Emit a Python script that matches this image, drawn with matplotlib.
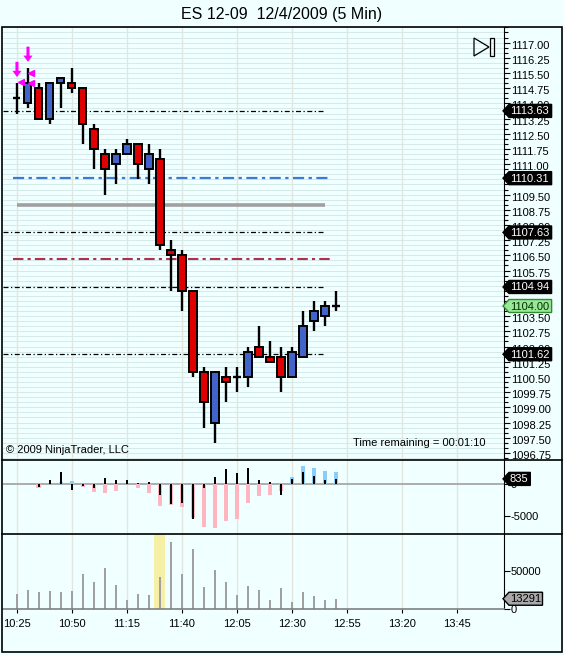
import matplotlib
matplotlib.use("Agg")
import matplotlib.pyplot as plt
from matplotlib.patches import Rectangle, Polygon
from matplotlib.transforms import ScaledTranslation
import numpy as np

plt.rcParams['font.family'] = ['Liberation Sans', 'DejaVu Sans']

W, H = 564, 655
BG = '#F0FFFF'

# ---- data ----
title = "ES 12-09  12/4/2009 (5 Min)"
time_labels = ["10:25", "10:50", "11:15", "11:40", "12:05", "12:30", "12:55", "13:20", "13:45"]

opens  = [1114.25, 1114.00, 1114.75, 1113.25, 1115.00, 1115.00, 1114.75, 1112.75, 1111.50, 1111.00,
          1111.50, 1112.00, 1110.75, 1111.25, 1106.75, 1106.50, 1104.75, 1100.75, 1098.25, 1100.50,
          1100.50, 1100.50, 1102.00, 1101.50, 1101.50, 1100.50, 1101.50, 1103.25, 1103.50, 1104.00]
highs  = [1115.00, 1115.75, 1115.00, 1115.00, 1115.25, 1115.75, 1114.75, 1113.00, 1111.75, 1111.75,
          1112.25, 1112.00, 1112.00, 1111.75, 1107.25, 1106.75, 1104.75, 1101.00, 1100.75, 1101.00,
          1101.00, 1102.00, 1103.00, 1102.25, 1102.00, 1102.00, 1103.75, 1104.25, 1104.25, 1104.75]
lows   = [1113.50, 1113.75, 1113.25, 1113.00, 1113.75, 1114.50, 1112.00, 1110.75, 1109.50, 1110.00,
          1111.50, 1110.25, 1110.00, 1106.75, 1104.75, 1103.75, 1100.50, 1098.00, 1097.25, 1099.25,
          1099.75, 1100.00, 1101.50, 1101.25, 1099.75, 1100.50, 1101.50, 1102.75, 1103.00, 1103.75]
closes = [1114.25, 1115.00, 1113.25, 1115.00, 1115.25, 1114.75, 1113.00, 1111.75, 1110.75, 1111.50,
          1112.00, 1111.00, 1111.50, 1107.00, 1106.50, 1104.75, 1100.75, 1099.25, 1100.75, 1100.25,
          1100.50, 1101.75, 1101.50, 1101.25, 1100.50, 1101.75, 1103.00, 1103.75, 1104.00, 1104.00]

pivot_levels = [1113.63, 1107.63, 1104.94, 1101.62]
blue_level = 1110.31
gray_level = 1109.00
red_level = 1106.31
last_price = 1104.00

signal_arrow_bars = [0, 1]
signal_arrow_tops = [1116.05, 1116.80]
signal_arrow_tips = [1115.30, 1116.05]
signal_tri_bars = [0.35, 1.25, 1.25]
signal_tri_prices = [1115.04, 1115.50, 1115.00]

delta_wide = [0, 0, -520, 0, 420, 570, -420, -1250, -1400, -1040,
              0, -570, -1400, -3390, -3300, -3650, -5300, -6700, -6900, -5800,
              -5470, -2970, -1820, -1670, -1040, 1100, 2800, 2500, 2030, 1880]
delta_thin = [0, 0, -420, 620, 1880, -890, -300, -620, 940, 620,
              620, 200, 360, -1670, -3100, -2970, -5400, -620, 1100, 2340,
              1720, 2500, 620, 310, -1770, 780, 1880, 1250, 620, 835]

volume = [19500, 24800, 22100, 23500, 22100, 23500, 46000, 34900, 53500, 31000,
          11000, 19500, 18100, 42000, 88500, 46000, 79200, 28300, 50800, 34900,
          18100, 30100, 24800, 11000, 27000, 8800, 22100, 16800, 11000, 13291]
highlight_bar = 13

n = len(opens)
xs = np.arange(n)

fig = plt.figure(figsize=(W / 100, H / 100), dpi=100)
fig.patch.set_facecolor(BG)

def px_axes(top, bottom):
    return fig.add_axes([3 / W, 1 - bottom / H, 501 / W, (bottom - top) / H])

ax_p = px_axes(27, 460)
ax_d = px_axes(460, 534)
ax_v = px_axes(534, 609)

xgrid = np.arange(0, 45, 5)
for ax in (ax_p, ax_d, ax_v):
    ax.set_facecolor(BG)
    ax.set_xlim(-1.27, 44.27)
    for s in ('left', 'top', 'bottom'):
        ax.spines[s].set_visible(False)
    ax.spines['right'].set_color('black')
    ax.yaxis.tick_right()
    ax.set_xticks(xgrid)
    ax.grid(axis='x', color='#E4E6DC', lw=1, zorder=0)
    ax.set_axisbelow(True)
    ax.tick_params(axis='y', direction='out', length=4.5, width=0.8, pad=0.5, labelsize=8)

# ---- price panel ----
ax_p.set_ylim(1096.40, 1117.77)
ax_p.set_yticks(np.arange(1096.75, 1117.01, 0.75))
ax_p.set_yticklabels(["%.2f" % t for t in np.arange(1096.75, 1117.01, 0.75)])
ax_p.set_yticks(np.arange(1096.50, 1117.76, 0.25), minor=True)
ax_p.tick_params(axis='y', which='minor', length=3, width=0.8, direction='out')
ax_p.grid(axis='y', which='both', color='#D6EAEA', lw=0.7, zorder=0)
ax_p.tick_params(axis='x', length=0, labelbottom=False)

# labels sit a little below their ticks in the original
shift = ScaledTranslation(0, -2 / 100, fig.dpi_scale_trans)
for lab in ax_p.get_yticklabels():
    lab.set_transform(lab.get_transform() + shift)

for lv in pivot_levels:
    ax_p.hlines(lv, -1.27, 28, color='black', lw=0.9, linestyles=(0, (4, 2, 1, 2)), zorder=2)
ax_p.hlines(blue_level, -0.36, 28.45, color='#3A7BD5', lw=1.6, linestyles=(0, (5, 2, 1.5, 2)), zorder=2)
ax_p.hlines(gray_level, 0, 28, color='#A0A0A0', lw=2.6, zorder=2)
ax_p.hlines(red_level, -0.36, 28.45, color='#B0304A', lw=1.5, linestyles=(0, (5, 2, 1.5, 2)), zorder=2)

for i in range(n):
    o, h, l, c = opens[i], highs[i], lows[i], closes[i]
    ax_p.vlines(i, l, h, color='black', lw=1.7, zorder=3)
    if c == o:
        ax_p.hlines(o, i - 0.32, i + 0.32, color='black', lw=1.7, zorder=4)
    else:
        col = '#4164C8' if c > o else '#E00000'
        ax_p.add_patch(Rectangle((i - 0.32, min(o, c)), 0.64, abs(c - o),
                                 facecolor=col, edgecolor='black', lw=1.4, zorder=4))

for b, t0, t1 in zip(signal_arrow_bars, signal_arrow_tops, signal_arrow_tips):
    ax_p.annotate('', xy=(b, t1), xytext=(b, t0),
                  arrowprops=dict(color='#FF00FF', width=2.2, headwidth=6.5, headlength=4.5, lw=0),
                  zorder=6)
ax_p.plot(signal_tri_bars, signal_tri_prices, ls='none', marker='<', ms=5,
          color='#FF00FF', zorder=6)

ax_p.text(3 / 501, (460 - 450) / 433, "\u00a9 2009 NinjaTrader, LLC", transform=ax_p.transAxes,
          fontsize=8, va='center', ha='left')
ax_p.text(350 / 501, (460 - 443) / 433, "Time remaining = 00:01:10", transform=ax_p.transAxes,
          fontsize=8, va='center', ha='left')

# ---- delta panel ----
ax_d.set_ylim(-7840, 3810)
ax_d.set_yticks([-5000, 0])
ax_d.set_yticklabels(["-5000", "0"])
ax_d.tick_params(axis='x', length=0, labelbottom=False)
ax_d.axhline(0, color='#A0A0A0', lw=1.2, zorder=1)
wide_cols = ['#87CEFA' if v > 0 else '#FFB6C1' for v in delta_wide]
ax_d.bar(xs, delta_wide, width=0.45, color=wide_cols, zorder=2)
ax_d.bar(xs, delta_thin, width=0.18, color='black', zorder=3)

# ---- volume panel ----
ax_v.set_ylim(-300, 99100)
ax_v.set_yticks([0, 50000])
ax_v.set_yticklabels(["0", "50000"])
ax_v.axvspan(highlight_bar - 0.5, highlight_bar + 0.5, color='#F6F0A6', zorder=1, lw=0)
ax_v.bar(xs, volume, width=0.2, color='#A0A0A0', zorder=2)
ax_v.spines['bottom'].set_visible(True)
ax_v.spines['bottom'].set_color('#808080')
ax_v.spines['bottom'].set_linewidth(1.2)
ax_v.set_xticklabels(time_labels)
ax_v.tick_params(axis='x', direction='out', length=3, width=0.8, pad=4, labelsize=8)

# ---- overlay: frame, separators, tags ----
ov = fig.add_axes([0, 0, 1, 1], zorder=10)
ov.set_xlim(0, W)
ov.set_ylim(H, 0)
ov.set_axis_off()
ov.add_patch(Rectangle((2, 27), 560, 625, fill=False, ec='black', lw=1.2))
ov.plot([2, 562], [460, 460], color='black', lw=1.2)
ov.plot([2, 562], [534, 534], color='black', lw=1.2)
ov.add_patch(Polygon([(474, 38), (474, 56), (489, 47)], closed=True, fill=False, ec='black', lw=0.9))
ov.add_patch(Rectangle((490, 38), 3.5, 18, fill=False, ec='black', lw=0.9))


def to_px(ax, v):
    return H - ax.transData.transform((0, v))[1]


def tag(y, text, fc, ec, tc):
    w = 9 + sum(3.0 if ch == '.' else 6.1 for ch in text)
    x0 = 503
    pts = [(x0, y), (x0 + 6, y - 6.5), (x0 + w, y - 6.5), (x0 + w, y + 6.5), (x0 + 6, y + 6.5)]
    ov.add_patch(Polygon(pts, closed=True, fc=fc, ec=ec, lw=1))
    ov.text(x0 + 7, y + 0.5, text, color=tc, fontsize=8, va='center', ha='left')


for lv in pivot_levels + [blue_level]:
    tag(to_px(ax_p, lv), "%.2f" % lv, 'black', 'black', 'white')
tag(to_px(ax_p, last_price), "%.2f" % last_price, '#98E898', '#2E8B2E', '#003000')
tag(to_px(ax_d, delta_thin[-1]), str(delta_thin[-1]), 'black', 'black', 'white')
tag(to_px(ax_v, volume[-1]), str(volume[-1]), '#A8A8A8', 'black', 'black')

fig.text(0.5, 1 - 15 / H, title, ha='center', va='center', fontsize=11.5)

fig.savefig("out.png", dpi=100, facecolor=BG)
